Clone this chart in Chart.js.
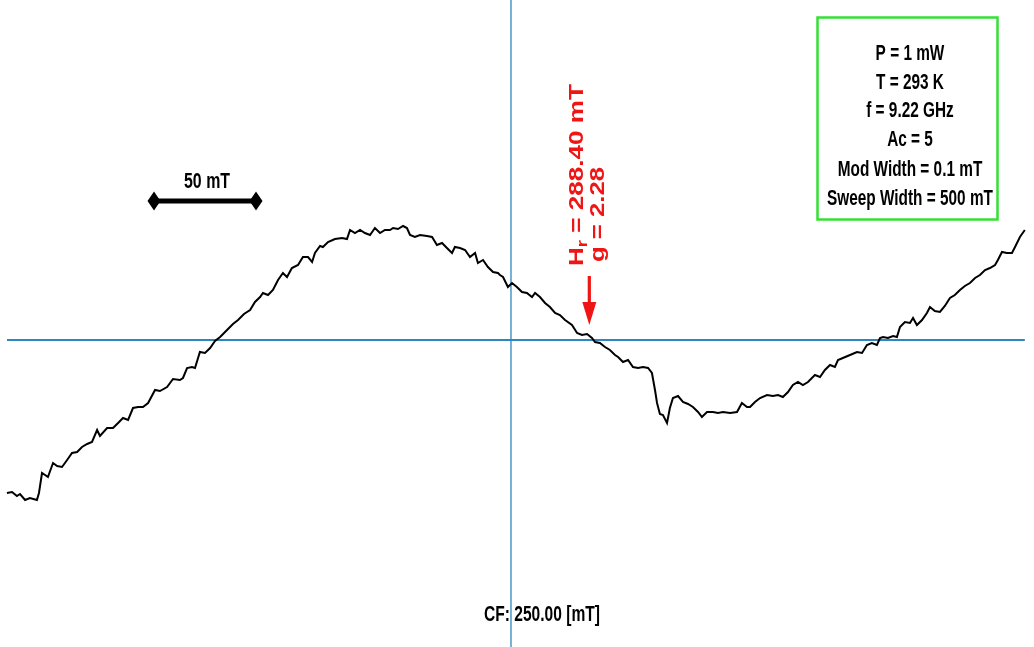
<!DOCTYPE html>
<html>
<head>
<meta charset="utf-8">
<title>EPR spectrum</title>
<script src="https://cdn.jsdelivr.net/npm/chart.js@4.4.1/dist/chart.umd.min.js"></script>
<style>
  html, body { margin: 0; padding: 0; background: #ffffff; }
  #wrap { width: 1034px; height: 647px; }
</style>
</head>
<body>
<div id="wrap"><canvas id="epr" width="1034" height="647"></canvas></div>
<script>
// Magnetic field (mT) and first-derivative EPR signal (arb. units, 0 = baseline)
const fieldMT = [
  2.9, 5.4, 7.8, 9.3, 11.8, 14.2, 17.6, 18.6, 20.1, 21.6,
  23.0, 25.5, 27.5, 29.9, 32.4, 34.8, 37.3, 39.7, 42.2, 44.6,
  47.1, 48.5, 52.0, 54.9, 57.4, 59.8, 62.3, 64.7, 67.2, 69.6,
  72.1, 75.5, 77.9, 81.4, 84.3, 87.7, 89.2, 91.2, 93.6, 95.1,
  97.5, 100.0, 102.5, 104.9, 107.4, 110.8, 113.7, 116.2, 119.1, 122.1,
  124.5, 127.0, 128.4, 130.9, 133.3, 135.8, 138.2, 140.2, 142.6, 145.6,
  148.0, 150.5, 152.5, 153.9, 156.4, 157.8, 160.3, 163.7, 167.2, 169.6,
  171.1, 173.5, 176.0, 178.4, 180.9, 183.3, 185.8, 188.2, 190.7, 192.2,
  194.6, 197.1, 199.0, 200.5, 202.9, 205.4, 208.8, 211.3, 213.7, 216.2,
  218.6, 221.1, 222.5, 225.0, 227.5, 229.9, 232.4, 233.8, 236.3, 238.7,
  241.2, 243.6, 244.6, 246.1, 248.5, 250.5, 252.9, 255.4, 257.8, 260.3,
  261.8, 264.2, 266.7, 269.1, 271.6, 274.0, 276.5, 279.9, 282.4, 284.8,
  287.3, 289.7, 291.2, 293.6, 296.1, 298.5, 301.0, 302.5, 304.9, 307.4,
  309.8, 312.3, 314.7, 317.2, 319.1, 320.6, 321.6, 323.0, 324.5, 326.5,
  327.9, 329.4, 331.9, 334.3, 336.8, 339.2, 341.7, 343.6, 346.1, 349.0,
  351.5, 353.9, 357.4, 360.8, 363.2, 365.7, 367.2, 369.6, 372.1, 375.5,
  378.4, 380.9, 383.3, 385.8, 388.2, 390.7, 393.1, 395.6, 399.0, 401.5,
  403.9, 406.4, 408.8, 410.3, 412.7, 416.2, 419.6, 422.1, 424.5, 426.9,
  429.4, 430.9, 432.4, 434.8, 437.3, 439.2, 440.7, 443.1, 445.6, 447.1,
  449.0, 451.5, 453.9, 455.4, 457.8, 460.3, 462.7, 465.2, 467.6, 470.1,
  472.5, 475.0, 477.5, 479.9, 482.4, 484.8, 487.3, 488.7, 490.7, 493.1,
  495.6, 497.1, 499.5, 501.9
];
const signal = [
  -153, -152, -156, -154, -160, -158, -160, -153, -133, -135,
  -137, -123, -126, -127, -120, -113, -112, -107, -104, -102,
  -90, -96, -88, -88, -83, -78, -80, -68, -67, -67,
  -63, -50, -51, -47, -39, -40, -38, -28, -27, -28,
  -12, -13, -8, -1, 3, 10, 16, 20, 26, 30,
  38, 43, 47, 45, 50, 60, 67, 63, 72, 75,
  83, 83, 78, 87, 94, 93, 98, 101, 102, 101,
  110, 107, 110, 107, 105, 112, 107, 110, 110, 112,
  111, 114, 112, 105, 103, 105, 104, 103, 95, 97,
  92, 87, 93, 92, 90, 83, 87, 77, 80, 73,
  68, 67, 65, 63, 53, 57, 53, 48, 47, 43,
  47, 43, 37, 33, 27, 25, 20, 15, 7, 5,
  6, 2, -2, -3, -7, -10, -15, -17, -22, -20,
  -27, -28, -27, -28, -33, -50, -63, -74, -75, -83,
  -68, -58, -56, -62, -64, -67, -72, -77, -72, -72,
  -73, -72, -73, -72, -63, -67, -67, -62, -58, -55,
  -56, -55, -57, -52, -45, -42, -45, -42, -35, -37,
  -30, -25, -27, -20, -18, -15, -12, -13, -5, -3,
  -5, 2, 3, 2, 4, 3, 13, 18, 17, 22,
  15, 20, 27, 33, 29, 28, 34, 42, 45, 50,
  54, 57, 62, 65, 70, 72, 75, 80, 88, 87,
  87, 93, 103, 110
];

// Annotation values
const centerFieldMT = 250.00;
const resonanceFieldMT = 288.40;
const gFactor = 2.28;
const scaleBarMT = 50;
const scaleBarStartMT = 75;
const acquisitionParams = [
  'P = 1 mW',
  'T = 293 K',
  'f = 9.22 GHz',
  'Ac = 5',
  'Mod Width = 0.1 mT',
  'Sweep Width = 500 mT'
];

const FONT_FAMILY = "'Liberation Sans', Arial, sans-serif";
const AXIS_BLUE = '#2d86bd';
const NOTE_RED = '#f01515';

// Draw text squeezed/stretched horizontally to a given width
function fitText(ctx, text, x, y, size, width, align) {
  ctx.save();
  ctx.font = 'bold ' + size + 'px ' + FONT_FAMILY;
  const w = ctx.measureText(text).width;
  const k = width / w;
  ctx.translate(x, y);
  ctx.scale(k, 1);
  ctx.textBaseline = 'alphabetic';
  ctx.textAlign = align || 'center';
  ctx.fillText(text, 0, 0);
  ctx.restore();
}

// Baseline and centre-field cross-hair, under the trace
const crossHair = {
  id: 'crossHair',
  beforeDatasetsDraw(chart) {
    const { ctx, scales: { x, y }, height } = chart;
    ctx.save();
    ctx.strokeStyle = AXIS_BLUE;
    ctx.lineWidth = 1.8;
    const y0 = y.getPixelForValue(0);
    ctx.beginPath();
    ctx.moveTo(x.getPixelForValue(fieldMT[0]), y0);
    ctx.lineTo(x.getPixelForValue(fieldMT[fieldMT.length - 1]), y0);
    ctx.stroke();
    ctx.lineWidth = 1.3;
    const xc = x.getPixelForValue(centerFieldMT);
    ctx.beginPath();
    ctx.moveTo(xc, 0);
    ctx.lineTo(xc, height);
    ctx.stroke();
    ctx.restore();
  }
};

// Scale bar, resonance marker, parameter box and centre-field label
const annotations = {
  id: 'annotations',
  afterDatasetsDraw(chart) {
    const { ctx, scales: { x, y } } = chart;

    // 50 mT scale bar
    const xa = x.getPixelForValue(scaleBarStartMT);
    const xb = x.getPixelForValue(scaleBarStartMT + scaleBarMT);
    const yb = 201;
    ctx.save();
    ctx.fillStyle = '#000';
    ctx.fillRect(xa, yb - 2.5, xb - xa, 5);
    [xa, xb].forEach(px => {
      ctx.beginPath();
      ctx.moveTo(px - 6.5, yb);
      ctx.lineTo(px, yb - 9.5);
      ctx.lineTo(px + 6.5, yb);
      ctx.lineTo(px, yb + 9.5);
      ctx.closePath();
      ctx.fill();
    });
    fitText(ctx, scaleBarMT + ' mT', (xa + xb) / 2 + 2, 188, 22, 46);
    ctx.restore();

    // Resonance marker arrow
    const xr = x.getPixelForValue(resonanceFieldMT);
    ctx.save();
    ctx.fillStyle = NOTE_RED;
    ctx.fillRect(xr - 1.6, 276, 3.2, 30);
    ctx.beginPath();
    ctx.moveTo(xr - 7, 302);
    ctx.lineTo(xr + 7, 302);
    ctx.lineTo(xr, 325);
    ctx.closePath();
    ctx.fill();

    // Rotated resonance labels
    ctx.font = 'bold 21px ' + FONT_FAMILY;
    const partH = 'H';
    const partRest = ' = ' + resonanceFieldMT.toFixed(2) + ' mT';
    const wH = ctx.measureText(partH).width;
    const wRest = ctx.measureText(partRest).width;
    ctx.font = 'bold 15px ' + FONT_FAMILY;
    const wSub = ctx.measureText('r').width;
    const total = wH + wSub + wRest;
    const k1 = 182 / total;

    ctx.translate(xr - 6, 266);
    ctx.rotate(-Math.PI / 2);
    ctx.save();
    ctx.scale(k1, 1);
    ctx.textBaseline = 'alphabetic';
    ctx.textAlign = 'left';
    ctx.font = 'bold 21px ' + FONT_FAMILY;
    ctx.fillText(partH, 0, 0);
    ctx.font = 'bold 15px ' + FONT_FAMILY;
    ctx.fillText('r', wH, 4);
    ctx.font = 'bold 21px ' + FONT_FAMILY;
    ctx.fillText(partRest, wH + wSub, 0);
    ctx.restore();

    ctx.save();
    ctx.font = 'bold 21px ' + FONT_FAMILY;
    const gText = 'g = ' + gFactor.toFixed(2);
    const k2 = 95 / ctx.measureText(gText).width;
    ctx.translate(4, 21);
    ctx.scale(k2, 1);
    ctx.textAlign = 'left';
    ctx.fillText(gText, 0, 0);
    ctx.restore();
    ctx.restore();

    // Acquisition parameter box
    ctx.save();
    ctx.strokeStyle = '#35e035';
    ctx.lineWidth = 2.5;
    ctx.strokeRect(817.5, 17.5, 180, 202);
    ctx.fillStyle = '#000';
    ctx.font = 'bold 22px ' + FONT_FAMILY;
    const kBox = 166 / ctx.measureText(acquisitionParams[5]).width;
    const baselines = [60, 89, 117, 146, 176, 205];
    acquisitionParams.forEach((line, i) => {
      ctx.save();
      ctx.translate(910, baselines[i]);
      ctx.scale(kBox, 1);
      ctx.textAlign = 'center';
      ctx.fillText(line, 0, 0);
      ctx.restore();
    });
    ctx.restore();

    // Centre field label
    ctx.save();
    ctx.fillStyle = '#000';
    fitText(ctx, 'CF: ' + centerFieldMT.toFixed(2) + ' [mT]', 542, 621, 22, 116);
    ctx.restore();
  }
};

new Chart(document.getElementById('epr'), {
  type: 'line',
  data: {
    datasets: [{
      data: fieldMT.map((b, i) => ({ x: b, y: signal[i] })),
      borderColor: '#000000',
      borderWidth: 2,
      pointRadius: 0,
      tension: 0,
      fill: false
    }]
  },
  options: {
    responsive: false,
    animation: false,
    devicePixelRatio: 1,
    layout: { padding: 0 },
    plugins: { legend: { display: false }, tooltip: { enabled: false } },
    scales: {
      x: { type: 'linear', min: -0.5, max: 506.4, display: false },
      y: { type: 'linear', min: -307, max: 340, display: false }
    }
  },
  plugins: [crossHair, annotations]
});
</script>
</body>
</html>
